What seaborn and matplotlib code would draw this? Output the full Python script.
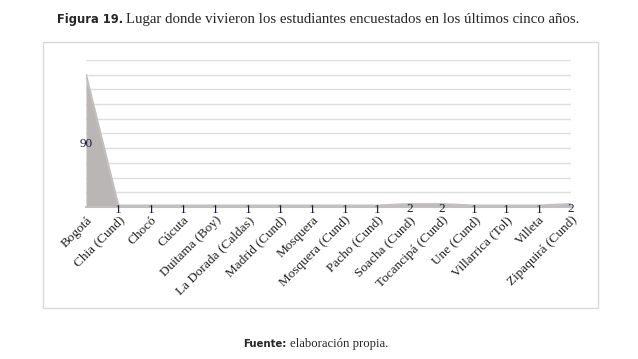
import matplotlib
matplotlib.use('Agg')
import matplotlib.pyplot as plt
import seaborn as sns
import pandas as pd
from matplotlib.patches import Rectangle

lugares = ['Bogotá', 'Chia (Cund)', 'Chocó', 'Cúcuta', 'Duitama (Boy)', 'La Dorada (Caldas)',
           'Madrid (Cund)', 'Mosquera', 'Mosquera (Cund)', 'Pacho (Cund)', 'Soacha (Cund)',
           'Tocancipá (Cund)', 'Une (Cund)', 'Villarrica (Tol)', 'Villeta', 'Zipaquirá (Cund)']
estudiantes = [90, 1, 1, 1, 1, 1, 1, 1, 1, 1, 2, 2, 1, 1, 1, 2]

df = pd.DataFrame({'lugar': lugares, 'n': estudiantes})
df['pos'] = range(len(df))

sns.set_style('white')
plt.rcParams['font.family'] = ['Liberation Serif', 'DejaVu Serif']

fig = plt.figure(figsize=(6.38, 3.59), dpi=100)
ax = fig.add_axes([86 / 638, 1 - 207 / 359, (571 - 86) / 638, (207 - 60) / 359])

# outer frame of the chart box
fig.patches.append(Rectangle((43 / 638, 1 - 308 / 359), (598 - 43) / 638, (308 - 42) / 359,
                             transform=fig.transFigure, fill=False, edgecolor='#d9d9d9', lw=1))

ax.fill_between(df['pos'], df['n'], color='#bab6b6', lw=0, zorder=2)
sns.lineplot(data=df, x='pos', y='n', color='#c4c0c0', lw=1.5, ax=ax, zorder=3)

ax.set_xlim(0, len(df) - 1)
ax.set_ylim(0, 100)
ax.set_yticks(range(0, 101, 10))
ax.set_yticklabels([])
ax.tick_params(axis='y', length=0)
ax.grid(axis='y', color='#dedede', lw=1)
ax.set_axisbelow(True)
for s in ['top', 'right', 'left']:
    ax.spines[s].set_visible(False)
ax.spines['bottom'].set_color('#c0c0c0')
ax.spines['bottom'].set_linewidth(1.5)

ax.set_xticks(df['pos'])
ax.set_xticklabels(df['lugar'], rotation=45, ha='right', rotation_mode='anchor',
                   fontsize=9.5, color='#222222')
ax.tick_params(axis='x', length=3, color='#d0d0d0', pad=2)
ax.set_xlabel('')
ax.set_ylabel('')

for x, v in zip(df['pos'], df['n']):
    ax.annotate(str(v), (x, v / 2), xytext=(0, -2.5), textcoords='offset points',
                ha='center', va='center', fontsize=9.5, color='#1a1a3a', zorder=4,
                annotation_clip=False)

title_y = 1 - 20 / 359
fig.text(123 / 638, title_y, 'Figura 19.', fontsize=8.3, fontweight='bold', family='DejaVu Sans',
         ha='right', va='center')
fig.text(126 / 638, title_y, 'Lugar donde vivieron los estudiantes encuestados en los últimos cinco años.',
         fontsize=10.7, ha='left', va='center')
fig.text(287 / 638, 1 - 344 / 359, 'Fuente:', fontsize=7.3, fontweight='bold', family='DejaVu Sans',
         ha='right', va='center')
fig.text(290 / 638, 1 - 344 / 359, 'elaboración propia.', fontsize=9.2, ha='left', va='center')

fig.savefig('out.png', dpi=100)
